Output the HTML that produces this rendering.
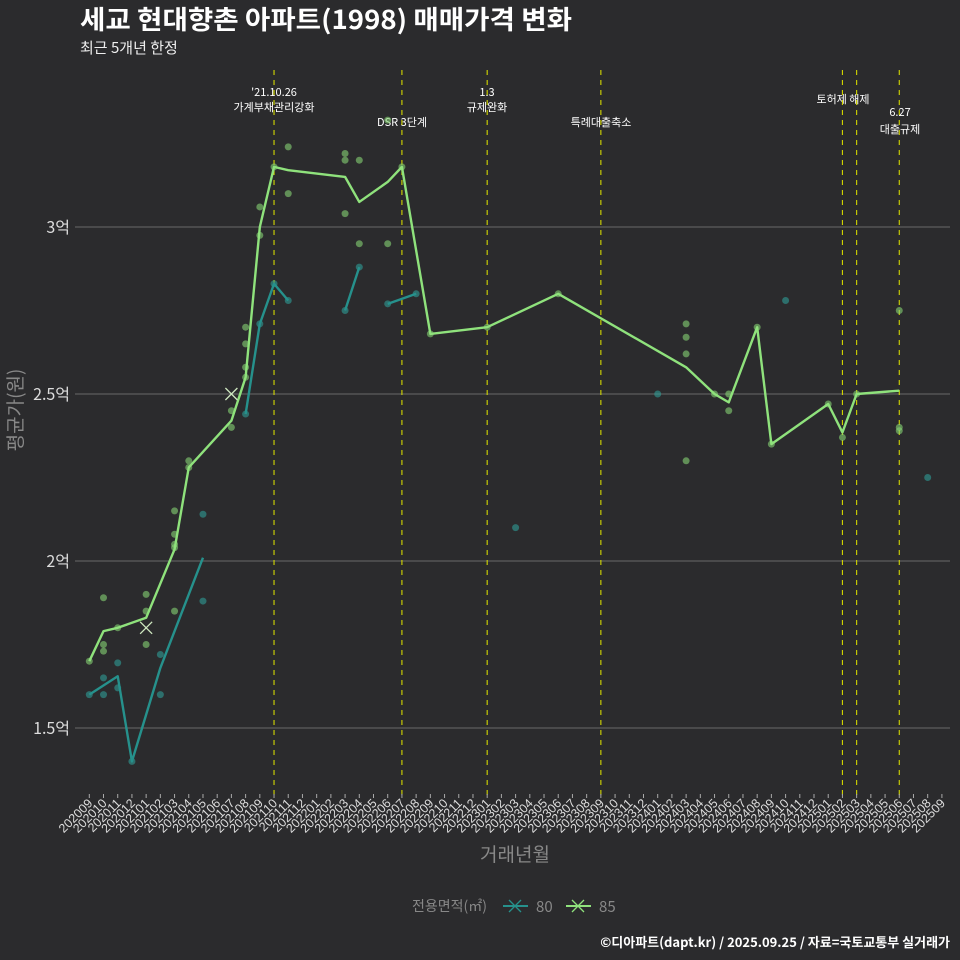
<!DOCTYPE html>
<html><head><meta charset="utf-8"><style>
body{margin:0;background:#2b2b2d;}
svg{display:block;font-family:"Liberation Sans","Noto Sans CJK KR",sans-serif;}
</style></head><body>
<svg id="chart" width="960" height="960" viewBox="0 0 960 960">
<rect width="960" height="960" fill="#2b2b2d"/>
<text x="80" y="29" font-size="26" font-weight="bold" fill="#fff" textLength="492" lengthAdjust="spacingAndGlyphs" style="font-family:'Noto Sans CJK KR',sans-serif">세교 현대향촌 아파트(1998) 매매가격 변화</text>
<text x="80" y="53" font-size="15" fill="#eee" style="font-family:'Noto Sans CJK KR',sans-serif">최근 5개년 한정</text>
<g id="grid"></g><g id="events"></g><g id="series"></g><g id="xaxis"></g><g id="yaxis"></g>
<text transform="translate(22,410) rotate(-90)" text-anchor="middle" font-size="19" fill="#888" style="font-family:'Noto Sans CJK KR',sans-serif">평균가(원)</text>
<text x="515" y="861" text-anchor="middle" font-size="19" fill="#888" style="font-family:'Noto Sans CJK KR',sans-serif">거래년월</text>
<g style="font-family:'Noto Sans CJK KR',sans-serif">
<text x="412" y="911" font-size="14" fill="#888">전용면적(㎡)</text>
<g><line x1="503" y1="906" x2="528" y2="906" stroke="#26918c" stroke-width="2"/><path d="M509 900l12 12M521 900l-12 12" stroke="#26918c" stroke-width="1.3"/><text x="536" y="912" font-size="15" fill="#888">80</text></g>
<g><line x1="566" y1="906" x2="591" y2="906" stroke="#8fe27c" stroke-width="2"/><path d="M572 900l12 12M584 900l-12 12" stroke="#8fe27c" stroke-width="1.3"/><text x="599" y="912" font-size="15" fill="#888">85</text></g>
</g>
<text x="950" y="947" text-anchor="end" font-size="13" font-weight="bold" fill="#fff" style="font-family:'Noto Sans CJK KR',sans-serif">©디아파트(dapt.kr) / 2025.09.25 / 자료=국토교통부 실거래가</text>
</svg>
<script>
const months=[];for(let y=2020,m=9;months.length<61;){months.push(y+String(m).padStart(2,'0'));m++;if(m>12){m=1;y++;}}
const yTicks=[1.5,2,2.5,3];
const yTickLabels=['1.5억','2억','2.5억','3억'];
const line85Idx=[0,1,2,4,6,7,10,11,12,13,14,18,19,21,22,24,28,33,42,44,45,47,48,52,53,54,57];
const line85Val=[1.70,1.79,1.80,1.83,2.035,2.28,2.42,2.55,3.0,3.18,3.17,3.15,3.075,3.135,3.18,2.68,2.70,2.80,2.58,2.50,2.475,2.70,2.35,2.47,2.385,2.50,2.51];
const line80Idx=[0,2,3,5,8];
const line80Val=[1.60,1.655,1.40,1.68,2.01];
const line80bIdx=[11,12,13,14];const line80bVal=[2.44,2.71,2.83,2.78];
const line80cIdx=[18,19];const line80cVal=[2.75,2.88];
const line80dIdx=[21,23];const line80dVal=[2.77,2.80];
const pts85Idx=[0,1,1,1,2,4,4,4,6,6,6,6,6,7,7,10,10,11,11,11,11,12,12,13,14,14,18,18,18,19,19,21,21,22,24,28,33,42,42,42,42,44,45,45,47,48,52,53,54,57,57,57];
const pts85Val=[1.70,1.89,1.75,1.73,1.80,1.90,1.85,1.75,2.15,2.08,2.05,2.04,1.85,2.30,2.28,2.45,2.40,2.70,2.65,2.58,2.55,3.06,2.975,3.18,3.24,3.10,3.22,3.20,3.04,3.20,2.95,3.32,2.95,3.18,2.68,2.70,2.80,2.71,2.67,2.62,2.30,2.50,2.50,2.45,2.70,2.35,2.47,2.37,2.50,2.75,2.40,2.39];
const pts80Idx=[0,1,1,2,2,3,5,5,8,8,11,12,13,14,18,19,21,23,30,40,49,59];
const pts80Val=[1.60,1.65,1.60,1.695,1.62,1.40,1.72,1.60,2.14,1.88,2.44,2.71,2.83,2.78,2.75,2.88,2.77,2.80,2.10,2.50,2.78,2.25];
const crossIdx=[4,10];const crossVal=[1.80,2.50];
const eventIdx=[13,22,28,36,53,54,57];
const eventLabels=[["'21.10.26","가계부채관리강화"],["DSR 3단계"],["1.3","규제완화"],["특례대출축소"],["토허제 해제"],[],["6.27","대출규제"]];
const eventLabelY=[[96,111],[126],[96,111],[126],[103],[],[116,133]];
const eventLabelX=[274,402,487,601,843,857,900];
const X=i=>89.3+14.21*i;
const Y=v=>227+(3-v)*334;
const NS='http://www.w3.org/2000/svg';
function mk(tag,attrs,parent){const e=document.createElementNS(NS,tag);for(const k in attrs)e.setAttribute(k,attrs[k]);parent.appendChild(e);return e;}
const grid=document.getElementById('grid'),yaxis=document.getElementById('yaxis'),xaxis=document.getElementById('xaxis'),ev=document.getElementById('events'),ser=document.getElementById('series');
yTicks.forEach((v,k)=>{
 const l=mk('line',{x1:75,x2:950,y1:Y(v),y2:Y(v),stroke:'#5e5e5e','stroke-width':1.2},grid);
 
 
 const t=mk('text',{x:70,y:Y(v)+6,'text-anchor':'end','font-size':16,fill:'#ddd'},yaxis);
 
 
 t.style.fontFamily="'Noto Sans CJK KR',sans-serif";
 t.textContent=yTickLabels[k];
});
months.forEach((m,i)=>{
 const tk=mk('line',{x1:X(i),x2:X(i),y1:794,y2:798,stroke:'#aaa','stroke-width':1},xaxis);
 
 
 const t=mk('text',{transform:`translate(${X(i)+4},${804}) rotate(-45)`,'text-anchor':'end','font-size':12.5,fill:'#ddd'},xaxis);
 
 
 t.textContent=m;
});
eventIdx.forEach((ix,k)=>{
 eventLabels[k].forEach((s,j)=>{
  const t=mk('text',{x:eventLabelX[k],y:eventLabelY[k][j],'text-anchor':'middle','font-size':11,fill:'#fff'},ev);
  
  
  t.style.fontFamily="'Noto Sans CJK KR',sans-serif";
  t.textContent=s;
 });
 const l=mk('line',{x1:X(ix),x2:X(ix),y1:70,y2:795,stroke:'#d4d800','stroke-width':1.1,'stroke-dasharray':'5,5'},ev);
 
 
});
function pts(idx,val,col,name){idx.forEach((ix,k)=>{const c=mk('circle',{cx:X(ix),cy:Y(val[k]),r:3.5,fill:col,'fill-opacity':0.6},ser);
 
 });}
function line(idx,val,col,name){const p=mk('polyline',{points:idx.map((ix,k)=>X(ix)+','+Y(val[k])).join(' '),fill:'none',stroke:col,'stroke-width':2.4,'stroke-linejoin':'round'},ser);
 
 }
const C80='#26918c',C85='#8fe27c';
pts(pts80Idx,pts80Val,'#2f9d96','point-80');
pts(pts85Idx,pts85Val,'#86d273','point-85');
line(line80Idx,line80Val,C80,'line-80');
line(line80bIdx,line80bVal,C80,'line-80');
line(line80cIdx,line80cVal,C80,'line-80');
line(line80dIdx,line80dVal,C80,'line-80');
line(line85Idx,line85Val,C85,'line-85');
crossIdx.forEach((ix,k)=>{const x=X(ix),y=Y(crossVal[k]);const p=mk('path',{d:`M${x-6} ${y-6}l12 12M${x+6} ${y-6}l-12 12`,stroke:'#cfe8c0','stroke-width':1.3},ser);
 
 });
</script>
</body></html>
